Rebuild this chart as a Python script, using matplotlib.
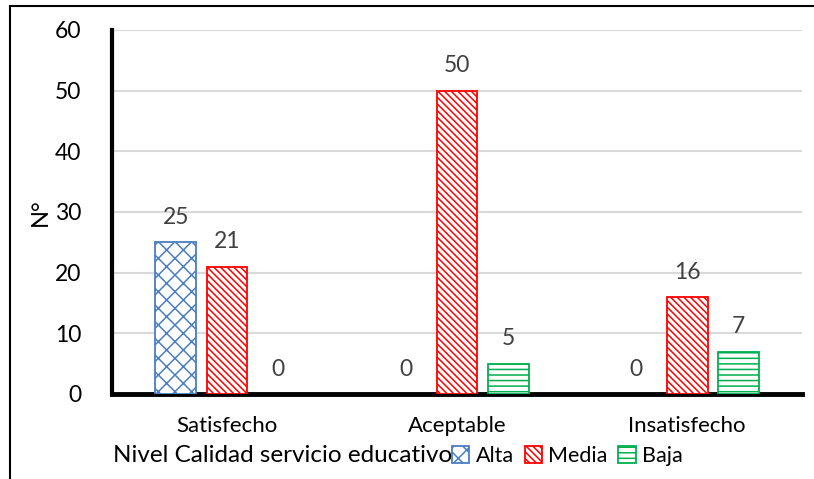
import matplotlib.pyplot as plt
import numpy as np
from matplotlib.lines import Line2D
from matplotlib.patches import Patch

plt.rcParams['font.family'] = ['Lato', 'DejaVu Sans']
plt.rcParams['hatch.linewidth'] = 1.1

categories = ["Satisfecho", "Aceptable", "Insatisfecho"]
series = ["Alta", "Media", "Baja"]
alta = [25, 0, 0]
media = [21, 50, 16]
baja = [0, 5, 7]
yticks = [0, 10, 20, 30, 40, 50, 60]

colors = ["#4A7EC4", "#FF0000", "#00B050"]
hatches = ["xx", "\\\\\\\\\\", "---"]

fig = plt.figure(figsize=(8.14, 4.79), dpi=100)
ax = fig.add_axes([0.1376, 0.1775, 0.8477, 0.7599])

x = np.arange(len(categories))
width = 0.178
offsets = [-0.222, 0.0, 0.222]

for vals, off, col, hat, name in zip([alta, media, baja], offsets, colors, hatches, series):
    bars = ax.bar(x + off, vals, width, facecolor="white", edgecolor=col,
                  hatch=hat, linewidth=1.3, label=name, zorder=3)
    for b, v in zip(bars, vals):
        if v == 0:
            b.set_linewidth(0)
        ax.text(b.get_x() + b.get_width() / 2, v + 4.1, str(v),
                ha="center", va="center", fontsize=16.5, color="#404040")

ax.set_xlim(-0.5, 2.5)
ax.set_ylim(0, 60)
ax.set_yticks(yticks)
ax.set_xticks(x)
ax.set_xticklabels(categories, fontsize=16)
ax.tick_params(axis="y", labelsize=16.5, length=0, pad=22)
ax.tick_params(axis="x", length=0, pad=16)
ax.yaxis.grid(True, color="#D9D9D9", linewidth=1.5, zorder=0)
ax.set_axisbelow(True)

for s in ["top", "right"]:
    ax.spines[s].set_visible(False)
ax.spines["left"].set_linewidth(3)
ax.spines["bottom"].set_linewidth(3.5)

fig.text(40 / 814, 1 - 212 / 479, "N°", rotation=90, ha="center", va="center", fontsize=17)

fig.text(113 / 814, 1 - 456 / 479, "Nivel Calidad servicio educativo",
         ha="left", va="center", fontsize=17.5)
handles = [Patch(facecolor="white", edgecolor=c, hatch=h, linewidth=1.3)
           for c, h in zip(colors, hatches)]
fig.legend(handles, series, loc="center left", bbox_to_anchor=(452 / 814, 1 - 456 / 479),
           ncol=3, frameon=False, fontsize=15.5, handlelength=0.8, handleheight=0.8,
           handletextpad=0.3, columnspacing=0.5, borderaxespad=0, borderpad=0)

# outer frame lines
fig.add_artist(Line2D([10 / 814, 1], [1 - 6 / 479, 1 - 6 / 479], color="black", linewidth=1.5,
                      transform=fig.transFigure))
fig.add_artist(Line2D([10 / 814, 10 / 814], [0, 1 - 6 / 479], color="black", linewidth=1.5,
                      transform=fig.transFigure))

fig.savefig("out.png", dpi=100)
